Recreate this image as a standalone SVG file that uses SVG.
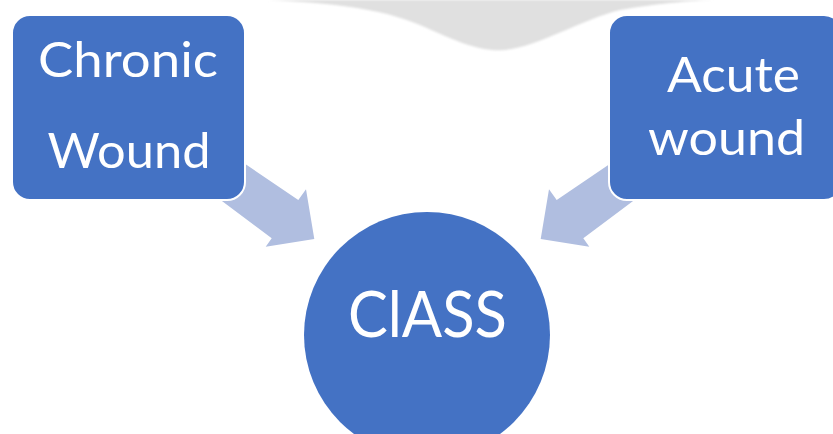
<svg xmlns="http://www.w3.org/2000/svg" width="833" height="434" viewBox="0 0 833 434">
  <defs>
    <style>
      .box { fill: #4472C4; stroke: #FFFFFF; stroke-width: 2; }
      .arrow { fill: #B0BEE0; }
      .label { fill: #FFFFFF; font-family: Lato, "Liberation Sans", Arial, sans-serif; text-anchor: middle; }
    </style>
    <filter id="soft" x="-10%" y="-50%" width="120%" height="200%">
      <feGaussianBlur stdDeviation="1.2"/>
    </filter>
  </defs>
  <rect width="833" height="434" fill="#FFFFFF"/>

  <!-- faint grey shape along the top edge -->
  <path d="M268,0 C330,3 380,8 420,25 C458,42 480,52 505,50 C540,46 580,20 620,10 C660,3 700,0 716,0 Z" fill="#E0E0E0" filter="url(#soft)"/>

  <!-- connectors: block arrows into the centre circle -->
  <g id="connectors">
    <path id="arrow-left" class="arrow" d="M213.6,142.6 L298.3,200 L306,189.3 L314.3,239 L265.7,246.7 L271.7,238.3 L195.2,180.9 Z"/>
    <path id="arrow-right" class="arrow" transform="translate(855,0) scale(-1,1)" d="M213.6,142.6 L298.3,200 L306,189.3 L314.3,239 L265.7,246.7 L271.7,238.3 L195.2,180.9 Z"/>
  </g>

  <g id="node-chronic">
    <rect class="box" x="12" y="15" width="233" height="185" rx="18" ry="18"/>
    <text class="label" x="128" y="77" font-size="49" textLength="180" lengthAdjust="spacingAndGlyphs">Chronic</text>
    <text class="label" x="129" y="168" font-size="49" textLength="163" lengthAdjust="spacingAndGlyphs">Wound</text>
  </g>

  <g id="node-acute">
    <rect class="box" x="609" y="15" width="233" height="185" rx="18" ry="18"/>
    <text class="label" x="733.5" y="92" font-size="49" textLength="133" lengthAdjust="spacingAndGlyphs">Acute</text>
    <text class="label" x="726.5" y="155" font-size="49" textLength="157" lengthAdjust="spacingAndGlyphs">wound</text>
  </g>

  <g id="node-class">
    <circle cx="427" cy="335" r="123" fill="#4472C4"/>
    <text class="label" x="427.5" y="337" font-size="63" textLength="159" lengthAdjust="spacingAndGlyphs">ClASS</text>
  </g>
</svg>
